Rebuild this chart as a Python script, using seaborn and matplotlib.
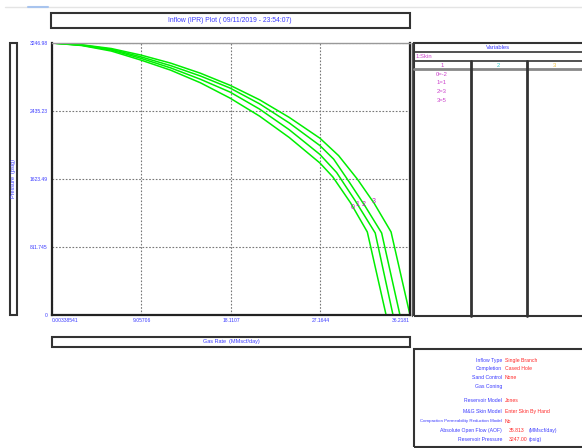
import numpy as np
import pandas as pd
import matplotlib
matplotlib.use("Agg")
import matplotlib.pyplot as plt
from matplotlib.patches import Rectangle
from matplotlib.lines import Line2D
import seaborn as sns

sns.set_style("white")
plt.rcParams['font.family'] = ['Liberation Sans', 'DejaVu Sans']

# ---- data (gas rate MMscf/day, pressure psig) ----
rate_0 = [0.00338541, 3, 6, 9, 12, 15, 18, 21, 24, 27.1, 28.4, 30.2, 31.9, 33.8]
pres_0 = [3246.98, 3217, 3151, 3043, 2923, 2773, 2590, 2374, 2119, 1815, 1650, 1340, 991, 0]
rate_1 = [0.00338541, 3, 6, 9, 12, 15, 18, 21, 24, 27.1, 28.8, 30.7, 32.7, 34.5]
pres_1 = [3246.98, 3220, 3163, 3064, 2950, 2815, 2662, 2458, 2212, 1917, 1700, 1360, 979, 0]
rate_2 = [0.00338541, 3, 6, 9, 12, 15, 18, 21, 24, 27.1, 28.5, 30.0, 31.7, 33.35, 35.2]
pres_2 = [3246.98, 3223, 3172, 3082, 2977, 2854, 2710, 2521, 2293, 2023, 1860, 1600, 1295, 979, 0]
rate_3 = [0.00338541, 3, 6, 9, 12, 15, 18, 21, 24, 27.1, 29.0, 30.9, 32.6, 34.3, 36.2181]
pres_3 = [3246.98, 3226, 3181, 3103, 3007, 2887, 2743, 2569, 2359, 2111, 1902, 1621, 1332, 992, 0]

curve_ids = ["0", "1", "2", "3"]
label_rate = [30.45, 30.9, 31.55, 32.5]
label_pres = [1289, 1325, 1325, 1349]

x_ticks = [0.00338541, 9.05706, 18.1107, 27.1644, 36.2181]
x_tick_labels = ["0.00338541", "9.05706", "18.1107", "27.1644", "36.2181"]
y_ticks = [0, 811.745, 1623.49, 2435.23, 3246.98]
y_tick_labels = ["0", "811.745", "1623.49", "2435.23", "3246.98"]

skin_values = ["0=-2", "1=1", "2=3", "3=5"]

info_labels = ["Inflow Type", "Completion", "Sand Control", "Gas Coning",
               "Reservoir Model", "M&G Skin Model",
               "Compaction Permeability Reduction Model",
               "Absolute Open Flow (AOF)", "Reservoir Pressure"]
info_values = ["Single Branch", "Cased Hole", "None", "", "Jones",
               "Enter Skin By Hand", "No", "35.813", "3247.00"]
info_units = ["", "", "", "", "", "", "", "(MMscf/day)", "(psig)"]

frames = []
for cid, q, p in zip(curve_ids, [rate_0, rate_1, rate_2, rate_3],
                     [pres_0, pres_1, pres_2, pres_3]):
    frames.append(pd.DataFrame({"rate": q, "pressure": p, "curve": cid}))
df = pd.concat(frames, ignore_index=True)

BLUE = "#3c3cff"
RED = "#ff2a2a"
MAG = "#cc44cc"
W, H = 582, 448

fig = plt.figure(figsize=(W / 100, H / 100), dpi=100)


def fx(x):
    return x / W


def fy(y):
    return 1 - y / H


def box(x0, y0, x1, y1, lw=1.5, color="#333333"):
    fig.add_artist(Rectangle((fx(x0), fy(y1)), fx(x1) - fx(x0), fy(y0) - fy(y1),
                             transform=fig.transFigure, fill=False,
                             lw=lw, edgecolor=color))


def hline(x0, x1, y, lw=1.0, color="#333333"):
    fig.add_artist(Line2D([fx(x0), fx(x1)], [fy(y), fy(y)],
                          transform=fig.transFigure, lw=lw, color=color))


def vline(x, y0, y1, lw=1.0, color="#333333"):
    fig.add_artist(Line2D([fx(x), fx(x)], [fy(y0), fy(y1)],
                          transform=fig.transFigure, lw=lw, color=color))


def txt(x, y, s, size=4.5, color=BLUE, ha="center", **kw):
    fig.text(fx(x), fy(y), s, fontsize=size, color=color, ha=ha, va="center", **kw)


# --- main plot ---
ax = fig.add_axes([fx(52), fy(315), fx(410) - fx(52), fy(43) - fy(315)])
sns.lineplot(data=df, x="rate", y="pressure", hue="curve", units="curve",
             estimator=None, sort=False, palette=["#00ee00"] * 4,
             linewidth=1.1, legend=False, ax=ax)
for cid, q, p in zip(curve_ids, label_rate, label_pres):
    ax.text(q, p, cid, fontsize=5, color="#c020c0", ha="center", va="center",
            zorder=10)

ax.set_xlim(x_ticks[0], x_ticks[-1])
ax.set_ylim(y_ticks[0], y_ticks[-1])
ax.set_xticks(x_ticks)
ax.set_xticklabels(x_tick_labels)
ax.set_yticks(y_ticks)
ax.set_yticklabels(y_tick_labels)
ax.set_xlabel("")
ax.set_ylabel("")
ax.tick_params(axis="both", labelsize=3.6, labelcolor=BLUE, length=0, pad=2)
ax.tick_params(axis="y", length=2, width=2, color="#9090ff", pad=1)
xl = ax.get_xticklabels()
xl[0].set_ha("left")
xl[-1].set_ha("right")
ax.grid(True, linestyle=(0, (1.5, 1.5)), color="#777777", linewidth=0.8)
for side in ["left", "bottom", "right"]:
    ax.spines[side].set_color("#222222")
    ax.spines[side].set_linewidth(1.6)
ax.spines["top"].set_color("#999999")
ax.spines["top"].set_linewidth(1.0)

# --- window decorations ---
hline(5, 582, 7.5, lw=1.0, color="#e4e4e4")
hline(28, 48, 7.5, lw=1.5, color="#a8c4ee")
box(51, 13, 410, 28, lw=1.5)
txt(230, 20.5, "Inflow (IPR) Plot ( 09/11/2019 - 23:54:07)", size=4.9)

box(10.5, 43, 17, 315, lw=1.5)
txt(13.8, 179, "Pressure  (psig)", size=4.0, rotation=90)

box(52, 336.5, 410, 347, lw=1.5)
txt(231, 342, "Gas Rate  (MMscf/day)", size=4.0)

# --- variables panel ---
vline(412, 43, 316, lw=1.0, color="#555555")
box(414, 43, 590, 316, lw=1.5)
hline(414, 582, 52, lw=1.2)
hline(414, 582, 61, lw=1.2)
hline(414, 582, 69.5, lw=2.0, color="#888888")
vline(470.5, 61, 316, lw=2.0)
vline(526.5, 61, 316, lw=2.0)
txt(498, 47.5, "Variables", size=4.2)
txt(416, 56.5, "1:Skin", size=4.2, color=MAG, ha="left")
txt(442, 65.5, "1", size=4.2, color=MAG)
txt(498, 65.5, "2", size=4.2, color="#33c8c8")
txt(554, 65.5, "3", size=4.2, color="#f0c040")
for i, s in enumerate(skin_values):
    txt(442, 74 + i * 8.8, s, size=4.2, color=MAG)

# --- info panel ---
box(414, 349, 590, 447, lw=1.5)
info_y = [360, 368.5, 377.5, 386, 400, 411.5, 421, 430, 439]
for lab, val, unit, y in zip(info_labels, info_values, info_units, info_y):
    size = 3.2 if len(lab) > 30 else 3.7
    txt(502, y, lab, size=size, ha="right")
    if unit:
        txt(509, y, val, size=3.7, color=RED, ha="left")
        txt(529, y, unit, size=3.7, ha="left")
    else:
        txt(505, y, val, size=3.7, color=RED, ha="left")

fig.savefig("out.png", dpi=100)
